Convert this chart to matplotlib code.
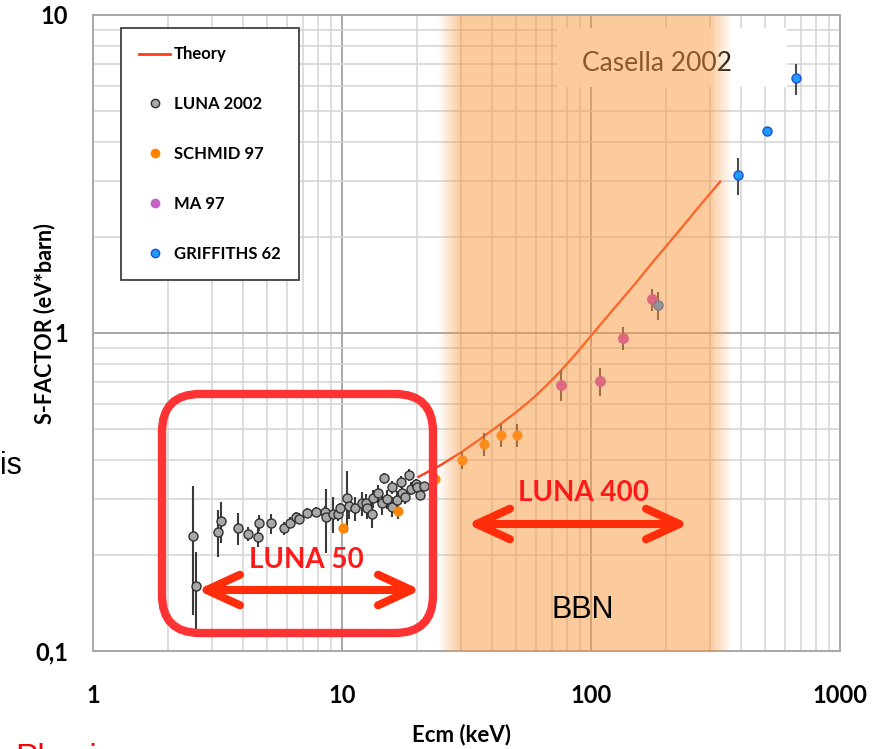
import numpy as np
import matplotlib
matplotlib.use('Agg')
import matplotlib.pyplot as plt
from matplotlib.lines import Line2D
from matplotlib.patches import FancyBboxPatch, Rectangle, FancyArrowPatch, ArrowStyle
from matplotlib.ticker import NullFormatter

# ---------------- data ----------------
theory_x = [20.3, 25, 30.3, 36, 43, 50, 58.7, 67, 75, 87, 100, 125, 150, 178, 201, 240, 274, 330]
theory_y = [0.353, 0.385, 0.423, 0.465, 0.515, 0.563, 0.625, 0.69, 0.755, 0.86, 0.98,
            1.205, 1.425, 1.68, 1.88, 2.22, 2.52, 2.99]

luna_x = [2.53, 2.585, 3.19, 3.26, 3.83, 4.18, 4.63, 4.60, 5.19, 5.87, 6.18, 6.54, 6.72,
          7.21, 7.84, 8.52, 8.6, 9.18, 9.67, 9.85, 10.44, 10.67, 11.28, 12.0, 12.49,
          12.65, 13.23, 13.27, 13.91, 14.52, 14.75, 15.1, 15.84, 15.9, 16.6, 17.2,
          17.4, 17.9, 18.6, 18.9, 19.77, 20.0, 20.6, 21.4]
luna_y = [0.230, 0.160, 0.237, 0.257, 0.243, 0.233, 0.253, 0.228, 0.252, 0.243, 0.253,
          0.2645, 0.261, 0.272, 0.273, 0.274, 0.263, 0.270, 0.269, 0.281, 0.302, 0.286,
          0.281, 0.291, 0.291, 0.281, 0.269, 0.302, 0.313, 0.293, 0.349, 0.300, 0.284,
          0.327, 0.298, 0.340, 0.315, 0.304, 0.358, 0.324, 0.335, 0.329, 0.310, 0.330]
luna_err = [0.10, 0.045, 0.040, 0.038, 0.028, 0.012, 0.014, 0.015, 0.018, 0.012, 0.010,
            0.010, 0.010, 0.010, 0.010, 0.012, 0.060, 0.035, 0.012, 0.012, 0.065, 0.025,
            0.025, 0.025, 0.020, 0.020, 0.025, 0.020, 0.020, 0.025, 0.015, 0.020, 0.020,
            0.015, 0.020, 0.015, 0.015, 0.015, 0.015, 0.015, 0.012, 0.012, 0.012, 0.010]

schmid_x = [10.1, 16.8, 23.6, 30.3, 37.2, 43.5, 50.4]
schmid_y = [0.243, 0.275, 0.348, 0.398, 0.448, 0.4765, 0.4765]
schmid_err = [0.0, 0.015, 0.01, 0.025, 0.038, 0.04, 0.04]

ma_x = [75.5, 108.7, 134.8, 175.8]
ma_y = [0.688, 0.706, 0.967, 1.276]
ma_err = [0.075, 0.07, 0.08, 0.10]

griff_x = [185.3, 390.6, 507.6, 663.7]
griff_y = [1.222, 3.14, 4.32, 6.32]
griff_err = [0.125, 0.42, 0.0, 0.7]

series_labels = ['Theory', 'LUNA 2002', 'SCHMID 97', 'MA 97', 'GRIFFITHS 62']
xtick_vals = [1, 10, 100, 1000]
xtick_labels = ['1', '10', '100', '1000']
ytick_vals = [0.1, 1, 10]
ytick_labels = ['0,1', '1', '10']
bbn_range = (30, 300)

# ---------------- figure ----------------
W, H = 882, 749
fig = plt.figure(figsize=(W / 100, H / 100), dpi=100)
fig.patch.set_facecolor('white')
ax = fig.add_axes([93 / W, 1 - 651 / H, 747 / W, 636 / H])
ax.set_xscale('log')
ax.set_yscale('log')
ax.set_xlim(1, 1000)
ax.set_ylim(0.1, 10)
ax.set_axisbelow(True)
ax.grid(which='minor', color='#D3D3D3', lw=1.1)
ax.grid(which='major', color='#A8A8A8', lw=1.4)
for s in ax.spines.values():
    s.set_color('#A8A8A8')
    s.set_linewidth(1.4)

ax.set_xticks(xtick_vals)
ax.set_xticklabels(xtick_labels, fontsize=17, fontweight='bold', family='Lato')
ax.set_yticks(ytick_vals)
ax.set_yticklabels(ytick_labels, fontsize=17, fontweight='bold', family='Lato')
ax.xaxis.set_minor_formatter(NullFormatter())
ax.yaxis.set_minor_formatter(NullFormatter())
ax.tick_params(which='both', length=0)
ax.tick_params(axis='x', pad=24)
ax.tick_params(axis='y', pad=18)

# white text box for Casella
ax.add_patch(Rectangle((0.621, 0.887), 0.308, 0.093, transform=ax.transAxes,
                       facecolor='white', edgecolor='none', zorder=2.5))
ax.text(0.755, 0.9245, 'Casella 2002', transform=ax.transAxes, ha='center', va='center',
        fontsize=19, family='Lato', color='#1a1a1a', zorder=2.6)

# theory
ax.plot(theory_x, theory_y, color='#FF3B1A', lw=1.7, zorder=2.8)

# data series
ax.errorbar(luna_x, luna_y, yerr=luna_err, fmt='o', ms=6.5, mfc='#A8A8A8', mec='#303030',
            mew=1.0, ecolor='#3A3A3A', elinewidth=1.5, capsize=0, zorder=3)
ax.errorbar(schmid_x, schmid_y, yerr=schmid_err, fmt='o', ms=6.5, mfc='#FF8400', mec='#FF8400',
            mew=0.8, ecolor='#4A4A4A', elinewidth=1.5, capsize=0, zorder=3)
ax.errorbar(ma_x, ma_y, yerr=ma_err, fmt='o', ms=7, mfc='#C83CC8', mec='#B040B0',
            mew=0.8, ecolor='#4A4A4A', elinewidth=1.5, capsize=0, zorder=3)
ax.errorbar(griff_x, griff_y, yerr=griff_err, fmt='o', ms=6.5, mfc='#1E9BFF', mec='#2050D0',
            mew=1.0, ecolor='#4A4A4A', elinewidth=1.5, capsize=0, zorder=3)

# BBN band with soft edges
band_color = '#F8963C'
a_max = 0.5
ax.axvspan(bbn_range[0], bbn_range[1], color=band_color, alpha=a_max, lw=0, zorder=4)
n = 16
fade = 0.09
l0, l1 = np.log10(bbn_range[0]), np.log10(bbn_range[1])
for i in range(n):
    a = a_max * (1 - (i + 0.5) / n)
    ax.axvspan(10 ** (l0 - fade * (i + 1) / n), 10 ** (l0 - fade * i / n), color=band_color,
               alpha=a, lw=0, zorder=4)
    ax.axvspan(10 ** (l1 + fade * i / n), 10 ** (l1 + fade * (i + 1) / n), color=band_color,
               alpha=a, lw=0, zorder=4)

# legend
handles = [
    Line2D([], [], color='#FF3B1A', lw=2),
    Line2D([], [], ls='none', marker='o', ms=6, mfc='#A8A8A8', mec='#303030', mew=1),
    Line2D([], [], ls='none', marker='o', ms=6, mfc='#FF8400', mec='#FF8400'),
    Line2D([], [], ls='none', marker='o', ms=6, mfc='#C462C4', mec='#C462C4'),
    Line2D([], [], ls='none', marker='o', ms=6, mfc='#1E9BFF', mec='#2050D0', mew=1),
]
leg = ax.legend(handles, series_labels, loc='upper left',
                bbox_to_anchor=((121 - 93) / 747, (651 - 28) / 636), borderaxespad=0,
                prop={'family': 'Lato', 'weight': 'bold', 'size': 12},
                handlelength=1.86, handletextpad=0.2, labelspacing=2.03, borderpad=1.1,
                fancybox=False, framealpha=1, edgecolor='#404040')
leg.get_frame().set_linewidth(1.3)
leg.set_zorder(20)

# axis labels
fig.text(45 / W, 1 - 324 / H, 'S-FACTOR (eV*barn)', rotation=90, ha='center', va='center',
         fontsize=15.5, fontweight='bold', family='Lato')
fig.text(462 / W, 1 - 735 / H, 'Ecm (keV)', ha='center', va='center',
         fontsize=16, fontweight='bold', family='Lato')

# annotations
inch = fig.dpi_scale_trans
rect = FancyBboxPatch((1.62, (H - 633) / 100), 2.71, 2.39,
                      boxstyle='round,pad=0,rounding_size=0.38', transform=inch,
                      facecolor='none', edgecolor='#FF3333', lw=6, zorder=10)
fig.add_artist(rect)

arrow_style = ArrowStyle('<->', head_length=24, head_width=11)
for (xa, xb, yy) in [(197, 421, 590), (467, 689, 524)]:
    arr = FancyArrowPatch((xa / 100, (H - yy) / 100), (xb / 100, (H - yy) / 100),
                          arrowstyle=arrow_style, mutation_scale=1, transform=inch,
                          color='#FF2D0A', lw=5.8, shrinkA=0, shrinkB=0,
                          capstyle='round', joinstyle='round', zorder=11)
    fig.add_artist(arr)

fig.text(306 / W, 1 - 560 / H, 'LUNA 50', ha='center', va='center', fontsize=20,
         fontweight='bold', family='Lato', color='#FF1A1A', zorder=12)
fig.text(583 / W, 1 - 493 / H, 'LUNA 400', ha='center', va='center', fontsize=20,
         fontweight='bold', family='Lato', color='#FF1A1A', zorder=12)
fig.text(583 / W, 1 - 610 / H, 'BBN', ha='center', va='center', fontsize=22,
         family='Liberation Sans', color='black', zorder=12)
fig.text(0 / W, 1 - 474 / H, 'is', ha='left', va='baseline', fontsize=22,
         family='Liberation Sans', color='black', zorder=12)
fig.text(15 / W, 1 - 743 / H, 'Physics', ha='left', va='top', fontsize=24,
         family='Liberation Sans', color='#FF0000', zorder=12)

fig.savefig('out.png', dpi=100)
